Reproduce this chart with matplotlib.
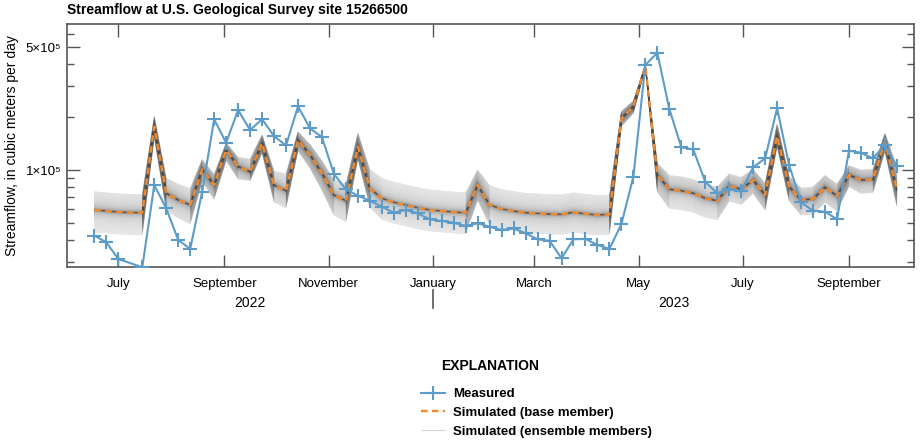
import numpy as np
import pandas as pd
import matplotlib
matplotlib.use('Agg')
import matplotlib.pyplot as plt
import matplotlib.dates as mdates
from matplotlib.lines import Line2D
from matplotlib.ticker import FixedLocator, FixedFormatter, NullFormatter

plt.rcParams['font.family'] = ['Liberation Sans', 'DejaVu Sans']

# weekly values, thousands of cubic meters per day
start_date = '2022-06-17'
n_weeks = 68

measured = [42.3, 38.7, 31.1, np.nan, 27.9, 82.1, 60.5, 39.9, 35.5, 75.2,
            194.5, 143, 220, 169, 195, 156, 138, 231, 173, 154,
            94.9, 77.6, 71.4, 66.8, 61.8, 57.1, 59.2, 56.6, 52.4, 51.2,
            50.1, 48.0, 49.7, 47.5, 45.5, 46.5, 43.6, 40.3, 39.5, 31.4,
            40.3, 40.5, 37.4, 35.5, 49.2, 91.6, 397, 466, 223, 135,
            131, 85.8, 73.7, 77.6, 75.9, 103.6, 116.5, 225, 106.8, 65.5,
            58.6, 57.9, 52.4, 128.8, 125.5, 116.5, 139, 105]

base_member = [59.2, 58.4, 57.6, 57.2, 57.1, 176.5, 73.7, 67.5, 63.2, 101,
               82.1, 130, 104.5, 97.8, 142, 82.1, 76.2, 148, 122, 95.8,
               72.0, 66.8, 135.8, 78.6, 69.0, 65.5, 63.2, 61.0, 59.2, 58.4,
               57.6, 57.1, 82.1, 63.2, 60.0, 58.4, 57.1, 56.6, 56.1, 55.9,
               57.4, 56.3, 55.4, 55.9, 197, 229.5, 391, 93.7, 77.6, 76.2,
               73.7, 69.0, 66.8, 81.1, 77.7, 87.7, 72.0, 156, 80.3, 67.5,
               68.4, 79.7, 71.1, 93.7, 87.7, 88.5, 145, 77.6]

# upper / lower edge of the ensemble band, as ratio to the base member
ens_hi_ratio = [1.27, 1.27, 1.27, 1.27, 1.27, 1.15, 1.22, 1.23, 1.24, 1.14,
                1.15, 1.10, 1.13, 1.18, 1.12, 1.20, 1.25, 1.12, 1.15, 1.18,
                1.22, 1.24, 1.20, 1.28, 1.30, 1.30, 1.30, 1.30, 1.30, 1.30,
                1.30, 1.30, 1.22, 1.29, 1.29, 1.29, 1.29, 1.29, 1.29, 1.29,
                1.29, 1.29, 1.29, 1.29, 1.10, 1.08, 1.03, 1.17, 1.20, 1.20,
                1.20, 1.20, 1.20, 1.17, 1.17, 1.15, 1.17, 1.18, 1.15, 1.17,
                1.17, 1.17, 1.17, 1.13, 1.14, 1.14, 1.12, 1.35]
ens_lo_ratio = [0.75, 0.75, 0.75, 0.75, 0.75, 0.87, 0.80, 0.79, 0.78, 0.85,
                0.83, 0.87, 0.85, 0.89, 0.88, 0.80, 0.80, 0.87, 0.84, 0.80,
                0.77, 0.76, 0.85, 0.78, 0.76, 0.76, 0.76, 0.76, 0.76, 0.76,
                0.76, 0.76, 0.82, 0.77, 0.77, 0.77, 0.77, 0.77, 0.77, 0.77,
                0.77, 0.77, 0.77, 0.77, 0.90, 0.92, 0.97, 0.80, 0.78, 0.78,
                0.78, 0.78, 0.78, 0.82, 0.82, 0.84, 0.82, 0.87, 0.83, 0.82,
                0.82, 0.82, 0.82, 0.86, 0.84, 0.84, 0.88, 0.80]

dates = pd.date_range(start_date, periods=n_weeks, freq='7D')
measured = np.array(measured) * 1000
base = np.array(base_member) * 1000
hi = np.array(ens_hi_ratio)
lo = np.array(ens_lo_ratio)

fig = plt.figure(figsize=(9.23, 4.45), dpi=100)
ax = fig.add_axes([67 / 923, 1 - 267 / 445, 847 / 923, 243 / 445])

# ensemble members spread between the band edges, denser near the base member
u = np.linspace(-1, 1, 91)
shares = np.sign(u) * np.abs(u) ** 2.2
for s in shares:
    factor = np.where(s >= 0, hi ** s, lo ** (-s))
    ax.plot(dates, base * factor, color='#4a4a4a', lw=0.5, alpha=0.2, zorder=1)

ax.plot(dates, base, color='#f28a2e', lw=1.7, dashes=(2.8, 1.8), zorder=3)
ok = ~np.isnan(measured)
ax.plot(dates[ok], measured[ok], color='#5d9cc9', lw=1.5, marker='+',
        markersize=10, markeredgewidth=1.5, zorder=4)

ax.set_yscale('log')
ax.set_ylim(2.8e4, 6.8e5)
ax.set_xlim(pd.Timestamp('2022-06-01'), pd.Timestamp('2023-10-09'))

ax.yaxis.set_major_locator(FixedLocator([1e5, 5e5]))
ax.yaxis.set_major_formatter(FixedFormatter(['1×10⁵', '5×10⁵']))
ax.yaxis.set_minor_locator(FixedLocator([3e4, 4e4, 5e4, 6e4, 7e4, 8e4, 9e4,
                                         2e5, 3e5, 4e5, 6e5]))
ax.yaxis.set_minor_formatter(NullFormatter())

ax.xaxis.set_major_locator(mdates.MonthLocator(bymonth=[1, 3, 5, 7, 9, 11]))
ax.xaxis.set_major_formatter(mdates.DateFormatter('%B'))
ax.xaxis.set_minor_locator(FixedLocator([]))

dark = '#555555'
ax.tick_params(which='both', direction='in', top=True, right=True,
               color=dark, width=1.0)
ax.tick_params(which='major', length=9)
ax.tick_params(which='minor', length=5)
ax.tick_params(axis='x', labelsize=9.5, pad=8)
ax.tick_params(axis='y', labelsize=9.5, pad=4)
for sp in ax.spines.values():
    sp.set_color(dark)
    sp.set_linewidth(1.2)

ax.set_ylabel('Streamflow, in cubic meters per day', fontsize=10, labelpad=5)

# year labels and the separator below January
trans = ax.get_xaxis_transform()
x0 = mdates.date2num(pd.Timestamp('2022-06-01'))
xj = mdates.date2num(pd.Timestamp('2023-01-01'))
x1 = mdates.date2num(pd.Timestamp('2023-10-09'))
ax.text((x0 + xj) / 2, -0.148, '2022', transform=trans, ha='center',
        va='center', fontsize=10)
ax.text((xj + x1) / 2, -0.148, '2023', transform=trans, ha='center',
        va='center', fontsize=10)
ax.plot([xj, xj], [-0.095, -0.17], transform=trans, color=dark, lw=1.2,
        clip_on=False)

fig.text(67 / 923, 1 - 10 / 445, 'Streamflow at U.S. Geological Survey site 15266500',
         fontsize=10, fontweight='bold', va='center', ha='left')

fig.text(490 / 923, 1 - 366 / 445, 'EXPLANATION', fontsize=10,
         fontweight='bold', ha='center', va='center')
handles = [
    Line2D([], [], color='#5d9cc9', lw=1.5, marker='+', markersize=10,
           markeredgewidth=1.5),
    Line2D([], [], color='#f28a2e', lw=1.7, dashes=(2.8, 1.8)),
    Line2D([], [], color='#d4d4d4', lw=0.8),
]
labels = ['Measured', 'Simulated (base member)', 'Simulated (ensemble members)']
leg = fig.legend(handles, labels, loc='upper left',
                 bbox_to_anchor=(421 / 923, 1 - 388 / 445), frameon=False,
                 borderpad=0, borderaxespad=0, handlelength=1.8,
                 handletextpad=0.65, labelspacing=0.5,
                 prop={'weight': 'bold', 'size': 9.5})

fig.savefig('out.png', dpi=100)
